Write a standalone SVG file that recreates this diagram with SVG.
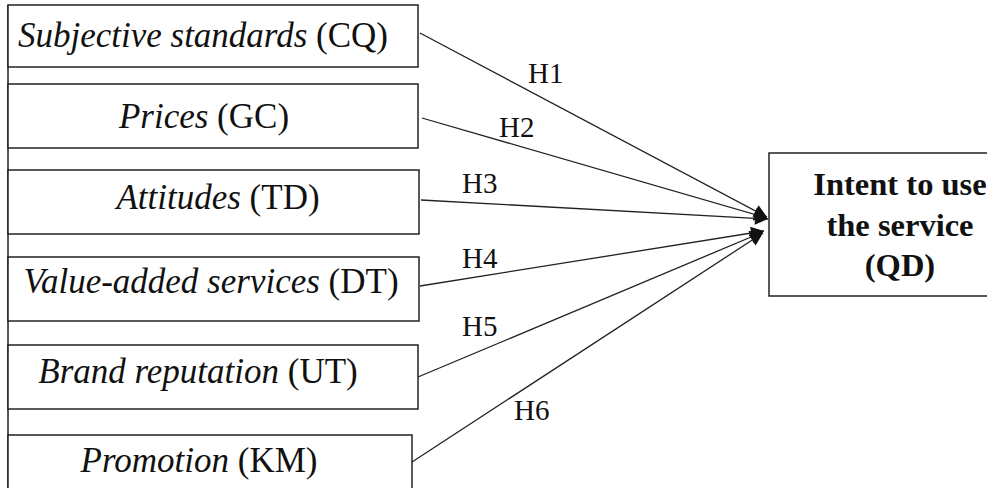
<svg xmlns="http://www.w3.org/2000/svg" width="987" height="488" viewBox="0 0 987 488">
<defs>
<style>
.box{fill:#fff;stroke:#222;stroke-width:1.5}
.lbl{font-family:"Liberation Serif","DejaVu Serif",serif;font-size:35px;fill:#111;text-anchor:middle}
.it{font-style:italic}
.tgt{font-family:"Liberation Serif","DejaVu Serif",serif;font-size:32.5px;font-weight:bold;fill:#111;text-anchor:middle}
.h{font-family:"Liberation Serif","DejaVu Serif",serif;font-size:29px;fill:#111}
.con{stroke:#222;stroke-width:1.3;fill:none;marker-end:url(#arr)}
</style>
<marker id="arr" viewBox="0 0 10 10" refX="10" refY="5" markerWidth="14" markerHeight="13" markerUnits="userSpaceOnUse" orient="auto">
<path d="M0,0 L10,5 L0,10 z" fill="#111"/>
</marker>
</defs>
<rect width="987" height="488" fill="#fff"/>
<line x1="8" y1="5" x2="8" y2="488" stroke="#222" stroke-width="1.5"/>
<g id="n_cq"><rect class="box" x="8" y="5" width="410" height="62"/><text class="lbl" x="203" y="47"><tspan class="it">Subjective standards</tspan> (CQ)</text></g>
<g id="n_gc"><rect class="box" x="8" y="84" width="410" height="64"/><text class="lbl" x="204" y="128"><tspan class="it">Prices</tspan> (GC)</text></g>
<g id="n_td"><rect class="box" x="8" y="170" width="411" height="64"/><text class="lbl" x="218" y="209"><tspan class="it">Attitudes</tspan> (TD)</text></g>
<g id="n_dt"><rect class="box" x="8" y="257" width="411" height="64"/><text class="lbl" x="211" y="293"><tspan class="it">Value-added services</tspan> (DT)</text></g>
<g id="n_ut"><rect class="box" x="8" y="345" width="410" height="64"/><text class="lbl" x="198" y="383"><tspan class="it">Brand reputation</tspan> (UT)</text></g>
<g id="n_km"><rect class="box" x="8" y="435" width="404" height="70"/><text class="lbl" x="199" y="472"><tspan class="it">Promotion</tspan> (KM)</text></g>
<g id="n_qd"><rect class="box" x="769" y="153" width="262" height="143"/>
<text class="tgt" x="900" y="195">Intent to use</text>
<text class="tgt" x="900" y="236">the service</text>
<text class="tgt" x="900" y="276">(QD)</text></g>
<g id="connectors">
<line class="con" x1="420" y1="33" x2="767" y2="217"/>
<line class="con" x1="422" y1="118" x2="767" y2="218"/>
<line class="con" x1="421" y1="200" x2="768" y2="219"/>
<line class="con" x1="420" y1="286" x2="764" y2="231"/>
<line class="con" x1="418" y1="377" x2="763" y2="232"/>
<line class="con" x1="412" y1="462" x2="763" y2="233"/>
</g>
<g id="labels">
<text class="h" x="528" y="83">H1</text>
<text class="h" x="499" y="137">H2</text>
<text class="h" x="462" y="193">H3</text>
<text class="h" x="462" y="268">H4</text>
<text class="h" x="462" y="336">H5</text>
<text class="h" x="514" y="420">H6</text>
</g>
</svg>
